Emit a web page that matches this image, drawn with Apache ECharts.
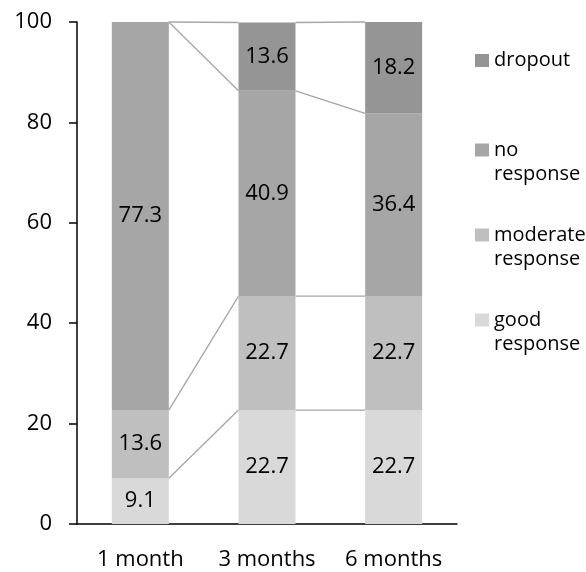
<!DOCTYPE html>
<html>
<head>
<meta charset="utf-8">
<script src="https://cdn.jsdelivr.net/npm/echarts@6/dist/echarts.min.js"></script>
<style>
  html, body { margin: 0; padding: 0; background: #ffffff; }
  #chart { width: 586px; height: 572px; }
</style>
</head>
<body>
<div id="chart"></div>
<script>
// Response categories at each follow-up time point (% of patients)
const categories = ['1 month', '3 months', '6 months'];
const goodResponse = [9.1, 22.7, 22.7];
const moderateResponse = [13.6, 22.7, 22.7];
const noResponse = [77.3, 40.9, 36.4];
const dropout = [0, 13.6, 18.2];
const yTicks = [0, 20, 40, 60, 80, 100];

const seriesDefs = [
  { name: 'good response', data: goodResponse, color: '#d9d9d9' },
  { name: 'moderate response', data: moderateResponse, color: '#bfbfbf' },
  { name: 'no response', data: noResponse, color: '#a6a6a6' },
  { name: 'dropout', data: dropout, color: '#959595' }
];

const FONT = '"Open Sans", "Noto Sans", sans-serif';
const BAR_RATIO = 0.45;

// running totals at the top of each stacked segment, used for the series lines
const cumulative = [];
seriesDefs.forEach((s, k) => {
  cumulative.push(s.data.map((v, i) => (k ? cumulative[k - 1][i] : 0) + (v || 0)));
});

const barSeries = seriesDefs.map(s => ({
  name: s.name,
  type: 'bar',
  stack: 'total',
  barWidth: (BAR_RATIO * 100) + '%',
  data: s.data,
  itemStyle: { color: s.color },
  label: {
    show: true,
    position: 'inside',
    color: '#000',
    fontFamily: FONT,
    fontSize: 22,
    formatter: p => (p.value ? String(p.value) : '')
  },
  emphasis: { disabled: true }
}));

// series lines joining the segment tops of neighbouring bars
const connectorSeries = {
  type: 'custom',
  silent: true,
  z: 1,
  data: categories.slice(0, -1).map((c, i) => [i]),
  encode: { x: 0 },
  renderItem: (params, api) => {
    const i = api.value(0);
    const half = api.size([1, 0])[0] * BAR_RATIO / 2;
    const children = cumulative.map(level => {
      const a = api.coord([i, level[i]]);
      const b = api.coord([i + 1, level[i + 1]]);
      return {
        type: 'line',
        shape: { x1: a[0] + half, y1: a[1], x2: b[0] - half, y2: b[1] },
        style: { stroke: '#a6a6a6', lineWidth: 1.3 }
      };
    });
    return { type: 'group', children };
  }
};

// one legend block per series, listed top to bottom; two-word names wrap
// onto a second line, with a blank leading line so the first word sits
// level with the swatch
const legendOrder = ['dropout', 'no response', 'moderate response', 'good response'];
const legendTops = [48.5, 114, 199, 284];
const legends = legendOrder.map((name, idx) => ({
  left: 475,
  top: legendTops[idx],
  padding: 0,
  orient: 'vertical',
  itemWidth: 14,
  itemHeight: 13,
  icon: 'rect',
  selectedMode: false,
  formatter: n => (n.indexOf(' ') >= 0 ? ' \n' + n.replace(' ', '\n') : n),
  textStyle: {
    color: '#000',
    fontFamily: FONT,
    fontSize: 20,
    lineHeight: 24
  },
  data: [name]
}));

const chart = echarts.init(document.getElementById('chart'), null, { renderer: 'canvas' });
chart.setOption({
  animation: false,
  backgroundColor: '#ffffff',
  grid: { left: 77, right: 129, top: 22, bottom: 48, containLabel: false, outerBoundsMode: 'none' },
  legend: legends,
  xAxis: {
    type: 'category',
    data: categories,
    axisLine: { show: true, lineStyle: { color: '#000', width: 1.5 } },
    axisTick: { show: false },
    axisLabel: { color: '#000', fontFamily: FONT, fontSize: 22, lineHeight: 26, margin: 23 },
    splitLine: { show: false }
  },
  yAxis: {
    type: 'value',
    min: yTicks[0],
    max: yTicks[yTicks.length - 1],
    interval: yTicks[1] - yTicks[0],
    axisLine: { show: true, lineStyle: { color: '#000', width: 1.5 } },
    axisTick: { show: true, inside: false, length: 8, lineStyle: { color: '#000', width: 1.5 } },
    axisLabel: { color: '#000', fontFamily: FONT, fontSize: 22, margin: 25 },
    splitLine: { show: false }
  },
  series: barSeries.concat([connectorSeries])
});
</script>
</body>
</html>
